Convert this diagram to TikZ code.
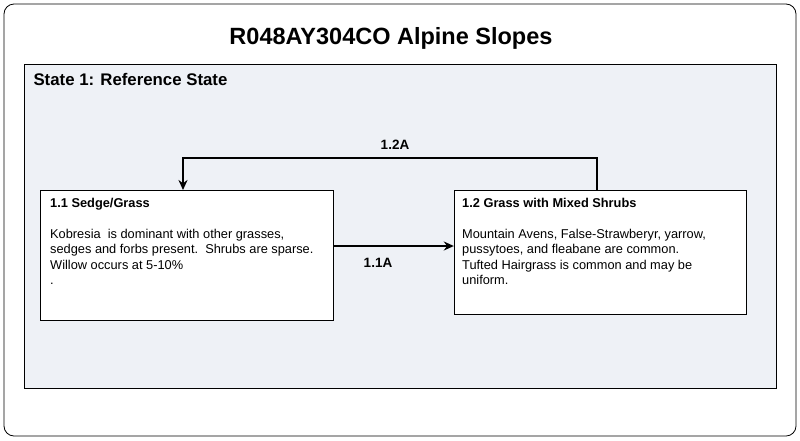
\documentclass[tikz,border=0pt]{standalone}
\usepackage{fontspec}
\setmainfont{Liberation Sans}
\usetikzlibrary{arrows.meta}
\begin{document}
\begin{tikzpicture}[x=1pt,y=-1pt,
  box/.style={draw,fill=white,line width=0.8pt},
  txt/.style={anchor=north west,align=left,font=\fontsize{12.8}{15.5}\selectfont,inner sep=0pt},
  conn/.style={line width=2pt,-{Stealth[length=10pt,width=9pt]}}]
\useasboundingbox (0,0) rectangle (800,440);
\draw[rounded corners=10pt,line width=0.8pt] (4,4) rectangle (796,436);
\node[font=\bfseries\fontsize{23.5}{26}\selectfont] (title) at (391,38) {R048AY304CO Alpine Slopes};
\draw[fill={rgb,255:red,238;green,241;blue,246},line width=0.8pt] (24,64) rectangle (776,388);
\node[anchor=west,font=\bfseries\fontsize{16.8}{19}\selectfont] (st) at (30,79) {State 1: Reference State};
\draw[box] (40,190) rectangle (333,320);
\node (a) at (186.5,255) [minimum width=293pt,minimum height=130pt] {};
\node[txt] at (50,198) {\textbf{1.1 Sedge/Grass}};
\node[txt] at (50,229) {Kobresia\ \ is dominant with other grasses,\\sedges and forbs present.\ \ Shrubs are sparse.\\Willow occurs at 5-10\%\\.};
\draw[box] (454,190) rectangle (746,314);
\node (b) at (600,252) [minimum width=292pt,minimum height=124pt] {};
\node[txt] at (462,198) {\textbf{1.2 Grass with Mixed Shrubs}};
\node[txt] at (462,229) {Mountain Avens, False-Strawberyr, yarrow,\\pussytoes, and fleabane are common.\\Tufted Hairgrass is common and may be\\uniform.};
\draw[conn] (a.east |- 0,246) -- (b.west |- 0,246);
\node[font=\bfseries\fontsize{13.5}{16}\selectfont] (l1) at (378,263) {1.1A};
\draw[conn] (597,190) -- (597,158) -- (183,158) -- (183,190);
\node[font=\bfseries\fontsize{13.5}{16}\selectfont] (l2) at (395,145) {1.2A};
\end{tikzpicture}
\end{document}
